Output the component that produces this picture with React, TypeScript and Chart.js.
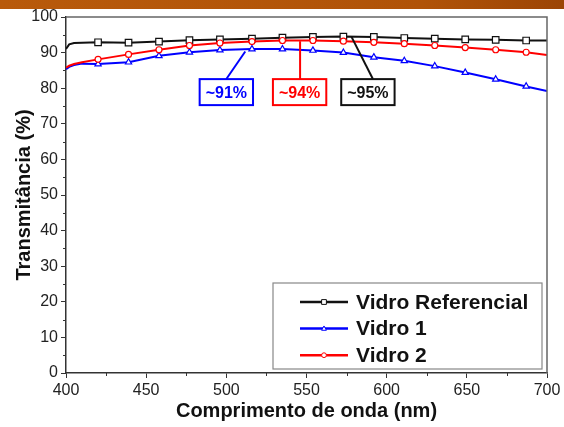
import { useEffect, useRef } from "react";
import { Chart, registerables } from "chart.js";

Chart.register(...registerables);

const wavelengths = [400, 402, 405, 410, 420, 439, 458, 477, 496, 516, 535, 554, 573, 592, 611, 630, 649, 668, 687, 700];
const markerWavelengths = [420, 439, 458, 477, 496, 516, 535, 554, 573, 592, 611, 630, 649, 668, 687];
const vidroReferencial = [91.0, 92.3, 92.7, 92.8, 92.9, 92.8, 93.1, 93.5, 93.7, 93.9, 94.2, 94.4, 94.5, 94.4, 94.1, 93.9, 93.7, 93.6, 93.4, 93.4];
const vidro1 = [85.3, 86.0, 86.5, 86.9, 86.8, 87.3, 89.1, 90.1, 90.7, 91.0, 91.0, 90.6, 90.0, 88.7, 87.7, 86.2, 84.4, 82.5, 80.5, 79.2];
const vidro2 = [85.8, 86.3, 86.8, 87.3, 88.1, 89.5, 90.8, 92.0, 92.7, 93.1, 93.4, 93.4, 93.2, 92.9, 92.5, 92.0, 91.4, 90.8, 90.1, 89.3];

const xMinorTicks = [425, 475, 525, 575, 625, 675];
const yMinorTicks = [5, 15, 25, 35, 45, 55, 65, 75, 85, 95];

const seriesNames = ["Vidro Referencial", "Vidro 1", "Vidro 2"];
const seriesColors = ["#111111", "#0000ff", "#ff0000"];
const seriesMarkers = ["rect", "triangle", "circle"];

// annotation boxes: label, center (nm, %), leader from (nm, %) to (nm, %)
const annotationLabels = ["~91%", "~94%", "~95%"];
const annotationColors = ["#0000ff", "#ff0000", "#111111"];
const annotationCenterX = [500, 545.7, 588.3];
const annotationCenterY = [78.9, 78.9, 78.9];
const leaderFromX = [500, 546, 591.4];
const leaderFromY = [82.6, 82.6, 82.6];
const leaderToX = [511.8, 546, 578];
const leaderToY = [90.3, 93.2, 94.5];

const FONT = "Arial, 'Liberation Sans', Helvetica, sans-serif";

const markerRadius: Record<string, number> = { rect: 4.6, triangle: 3.6, circle: 3.0 };

const framePlugin = {
  id: "frame",
  afterDatasetsDraw(chart: any) {
    const { ctx, chartArea: a } = chart;
    const xs = chart.scales.x;
    const ys = chart.scales.y;
    ctx.save();
    ctx.strokeStyle = "#666";
    ctx.lineWidth = 1.5;
    ctx.beginPath();
    ctx.moveTo(a.left, a.top);
    ctx.lineTo(a.right, a.top);
    ctx.lineTo(a.right, a.bottom);
    ctx.stroke();
    // minor ticks
    ctx.strokeStyle = "#333";
    ctx.lineWidth = 1;
    ctx.beginPath();
    xMinorTicks.forEach((v) => {
      const px = Math.round(xs.getPixelForValue(v)) + 0.5;
      ctx.moveTo(px, a.bottom);
      ctx.lineTo(px, a.bottom + 3);
    });
    yMinorTicks.forEach((v) => {
      const py = Math.round(ys.getPixelForValue(v)) + 0.5;
      ctx.moveTo(a.left, py);
      ctx.lineTo(a.left - 3, py);
    });
    ctx.stroke();
    ctx.restore();
  },
};

const annotationPlugin = {
  id: "annot",
  afterDatasetsDraw(chart: any) {
    const { ctx } = chart;
    const xs = chart.scales.x;
    const ys = chart.scales.y;
    ctx.save();
    ctx.font = `bold 16px ${FONT}`;
    annotationLabels.forEach((label, i) => {
      const c = annotationColors[i];
      ctx.strokeStyle = c;
      ctx.lineWidth = 2;
      ctx.beginPath();
      ctx.moveTo(xs.getPixelForValue(leaderFromX[i]), ys.getPixelForValue(leaderFromY[i]));
      ctx.lineTo(xs.getPixelForValue(leaderToX[i]), ys.getPixelForValue(leaderToY[i]));
      ctx.stroke();
      const cx = xs.getPixelForValue(annotationCenterX[i]);
      const cy = ys.getPixelForValue(annotationCenterY[i]);
      const w = ctx.measureText(label).width + 12;
      const h = 26;
      ctx.fillStyle = "#fff";
      ctx.fillRect(cx - w / 2, cy - h / 2, w, h);
      ctx.strokeRect(cx - w / 2, cy - h / 2, w, h);
      ctx.fillStyle = c;
      ctx.textAlign = "center";
      ctx.textBaseline = "middle";
      ctx.fillText(label, cx, cy + 1);
    });
    ctx.restore();
  },
};

function drawMarker(ctx: CanvasRenderingContext2D, style: string, x: number, y: number, r: number) {
  ctx.beginPath();
  if (style === "rect") {
    ctx.rect(x - r, y - r, 2 * r, 2 * r);
  } else if (style === "triangle") {
    ctx.moveTo(x, y - r * 1.1);
    ctx.lineTo(x + r, y + r * 0.7);
    ctx.lineTo(x - r, y + r * 0.7);
    ctx.closePath();
  } else {
    ctx.arc(x, y, r, 0, Math.PI * 2);
  }
  ctx.fill();
  ctx.stroke();
}

const legendPlugin = {
  id: "customLegend",
  afterDraw(chart: any) {
    const { ctx, chartArea: a } = chart;
    const w = 269;
    const h = 86;
    const left = a.right - 274;
    const top = a.bottom - 90;
    ctx.save();
    ctx.fillStyle = "#fff";
    ctx.fillRect(left, top, w, h);
    ctx.strokeStyle = "#888";
    ctx.lineWidth = 1.2;
    ctx.strokeRect(left, top, w, h);
    ctx.font = `bold 21px ${FONT}`;
    ctx.textBaseline = "middle";
    ctx.textAlign = "left";
    seriesNames.forEach((name, i) => {
      const y = top + 19 + i * 26.6;
      ctx.strokeStyle = seriesColors[i];
      ctx.lineWidth = 2.5;
      ctx.beginPath();
      ctx.moveTo(left + 27, y);
      ctx.lineTo(left + 75, y);
      ctx.stroke();
      ctx.fillStyle = "#fff";
      ctx.lineWidth = 1;
      drawMarker(ctx, seriesMarkers[i], left + 51, y, 2.4);
      ctx.fillStyle = "#111";
      ctx.fillText(name, left + 83, y + 1);
    });
    ctx.restore();
  },
};

export default function App() {
  const ref = useRef<HTMLCanvasElement | null>(null);

  useEffect(() => {
    if (!ref.current) return;
    const markerSet = new Set(markerWavelengths);
    const allSeries = [vidroReferencial, vidro1, vidro2];
    const datasets = allSeries.map((vals, i) => ({
      label: seriesNames[i],
      data: wavelengths.map((w, j) => ({ x: w, y: vals[j] })),
      borderColor: seriesColors[i],
      backgroundColor: "#ffffff",
      borderWidth: 2,
      tension: 0,
      pointStyle: seriesMarkers[i] as any,
      pointRadius: (c: any) => (markerSet.has(wavelengths[c.dataIndex]) ? markerRadius[seriesMarkers[i]] : 0),
      pointBorderColor: seriesColors[i],
      pointBackgroundColor: "#ffffff",
      pointBorderWidth: 1.2,
      order: 3 - i,
    }));

    const chart = new Chart(ref.current, {
      type: "line",
      data: { datasets },
      plugins: [framePlugin, annotationPlugin, legendPlugin],
      options: {
        animation: false,
        responsive: false,
        layout: { padding: { top: 17, right: 17, left: 0, bottom: 0 } },
        plugins: { legend: { display: false }, tooltip: { enabled: false } },
        scales: {
          x: {
            type: "linear",
            min: 400,
            max: 700,
            afterFit: (s: any) => {
              s.height = 54;
            },
            border: { color: "#333", width: 1.5 },
            grid: { drawOnChartArea: false, drawTicks: true, tickLength: 5, color: "#333" },
            ticks: {
              stepSize: 50,
              autoSkip: false,
              maxRotation: 0,
              padding: 3,
              color: "#222",
              font: { family: FONT, size: 16 },
            },
            title: {
              display: true,
              text: "Comprimento de onda (nm)",
              color: "#111",
              font: { family: FONT, size: 20, weight: "bold" },
              padding: { top: 0, bottom: 4 },
            },
          },
          y: {
            min: 0,
            max: 100,
            afterFit: (s: any) => {
              s.width = 66;
            },
            border: { color: "#333", width: 1.5 },
            grid: { drawOnChartArea: false, drawTicks: true, tickLength: 5, color: "#333" },
            ticks: {
              stepSize: 10,
              autoSkip: false,
              padding: 3,
              color: "#222",
              font: { family: FONT, size: 16 },
            },
            title: {
              display: true,
              text: "Transmitância (%)",
              color: "#111",
              font: { family: FONT, size: 20, weight: "bold" },
              padding: { top: 12, bottom: 0 },
            },
          },
        },
      },
    });
    return () => chart.destroy();
  }, []);

  return (
    <div style={{ position: "absolute", left: 0, top: 0, width: 564, height: 427, background: "#fff" }}>
      <div
        style={{
          position: "absolute",
          left: 0,
          top: 0,
          width: 564,
          height: 9,
          background: "linear-gradient(90deg, #b85a0b 0%, #b05308 75%, #9c4505 100%)",
        }}
      />
      <canvas ref={ref} width={564} height={427} style={{ position: "absolute", left: 0, top: 0 }} />
    </div>
  );
}
